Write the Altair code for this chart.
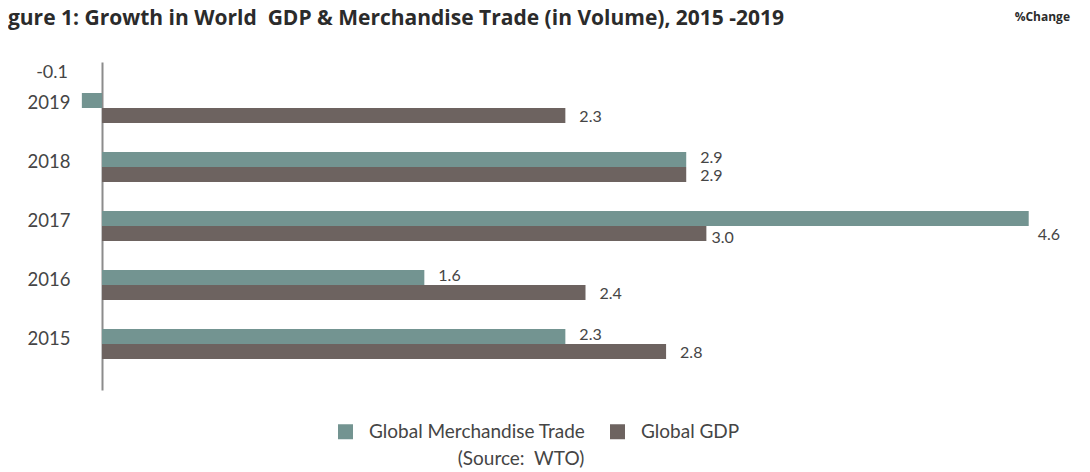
import altair as alt
import pandas as pd

years = ["2015", "2016", "2017", "2018", "2019"]
trade = [2.3, 1.6, 4.6, 2.9, -0.1]
gdp = [2.8, 2.4, 3.0, 2.9, 2.3]
series = ["Global Merchandise Trade", "Global GDP"]
colors = ["#739491", "#6d6360"]

rows = []
for i, y in enumerate(years):
    rows.append({"year": y, "series": series[0], "value": trade[i], "label": f"{trade[i]:.1f}"})
    rows.append({"year": y, "series": series[1], "value": gdp[i], "label": f"{gdp[i]:.1f}"})
df = pd.DataFrame(rows)

FONT = "Lato"
TXT = "#454545"

y_enc = alt.Y("year:N", sort="descending",
              scale=alt.Scale(paddingInner=0.49, paddingOuter=0.525),
              axis=alt.Axis(title=None, ticks=False, labelFontSize=18.5, labelFont=FONT,
                            labelColor=TXT, labelPadding=32, labelOffset=-5,
                            domainColor="#8c8c8c", domainWidth=2, grid=False))
yoff = alt.YOffset("series:N", sort=series, scale=alt.Scale(paddingInner=0, paddingOuter=0))
x_enc = alt.X("value:Q", scale=alt.Scale(domain=[0, 4.8], nice=False, zero=True), axis=None)

base = alt.Chart(df)

bars = base.mark_bar().encode(
    x=x_enc, y=y_enc, yOffset=yoff,
    color=alt.Color("series:N", sort=series,
                    scale=alt.Scale(domain=series, range=colors),
                    legend=alt.Legend(orient="none", legendX=234, legendY=360,
                                      direction="horizontal", title=None,
                                      symbolType="square", symbolSize=225,
                                      symbolStrokeWidth=0, symbolOpacity=1,
                                      labelFontSize=19, labelFont=FONT, labelColor=TXT,
                                      labelLimit=400, labelOffset=14, columnPadding=22)),
)

lbl_trade = base.transform_filter(
    "datum.value > 0 && datum.year != '2017' && datum.series == 'Global Merchandise Trade'"
).mark_text(align="left", baseline="middle", dx=14, dy=-1, fontSize=16, font=FONT, color=TXT).encode(
    x=x_enc, y=y_enc, yOffset=yoff, text="label:N")

lbl_gdp = base.transform_filter(
    "datum.year != '2017' && datum.series == 'Global GDP'"
).mark_text(align="left", baseline="middle", dx=14, dy=1, fontSize=16, font=FONT, color=TXT).encode(
    x=x_enc, y=y_enc, yOffset=yoff, text="label:N")

lbl_gdp17 = base.transform_filter(
    "datum.year == '2017' && datum.series == 'Global GDP'"
).mark_text(align="left", baseline="middle", dx=5, dy=4, fontSize=16, font=FONT, color=TXT).encode(
    x=x_enc, y=y_enc, yOffset=yoff, text="label:N")

lbl_tr17 = base.transform_filter(
    "datum.year == '2017' && datum.series == 'Global Merchandise Trade'"
).mark_text(align="left", baseline="middle", dx=9, dy=17, fontSize=16, font=FONT, color=TXT).encode(
    x=x_enc, y=y_enc, yOffset=yoff, text="label:N")

lbl_neg = base.transform_filter("datum.value < 0").mark_text(
    align="right", baseline="middle", dy=-27, fontSize=18, font=FONT, color=TXT).encode(
    x=alt.value(-34), y=y_enc, yOffset=yoff, text="label:N")

title = alt.Chart(pd.DataFrame({"t": ["Figure 1: Growth in World\u00a0 GDP & Merchandise Trade (in Volume), 2015 -2019"]})).mark_text(
    align="left", baseline="middle", fontSize=21, fontWeight="bold", font="Open Sans", color="#2b2b2b"
).encode(x=alt.value(-112), y=alt.value(-43), text="t:N")

pct = alt.Chart(pd.DataFrame({"t": ["%Change"]})).mark_text(
    align="right", baseline="middle", fontSize=12, fontWeight="bold", font="Open Sans", color="#2b2b2b"
).encode(x=alt.value(968), y=alt.value(-45), text="t:N")

source = alt.Chart(pd.DataFrame({"t": ["(Source:\u00a0 WTO)"]})).mark_text(
    align="center", baseline="middle", fontSize=19, font=FONT, color=TXT
).encode(x=alt.value(419), y=alt.value(397), text="t:N")

chart = alt.layer(bars, lbl_trade, lbl_gdp, lbl_gdp17, lbl_tr17, lbl_neg, title, pct, source).properties(
    width=967, height=328,
    padding={"left": 94, "top": 54, "right": 10, "bottom": 80},
    autosize=alt.AutoSizeParams(type="none"),
).configure(background="white").configure_view(stroke=None)

chart.save("out.html", embed_options={"renderer": "svg", "actions": False})
